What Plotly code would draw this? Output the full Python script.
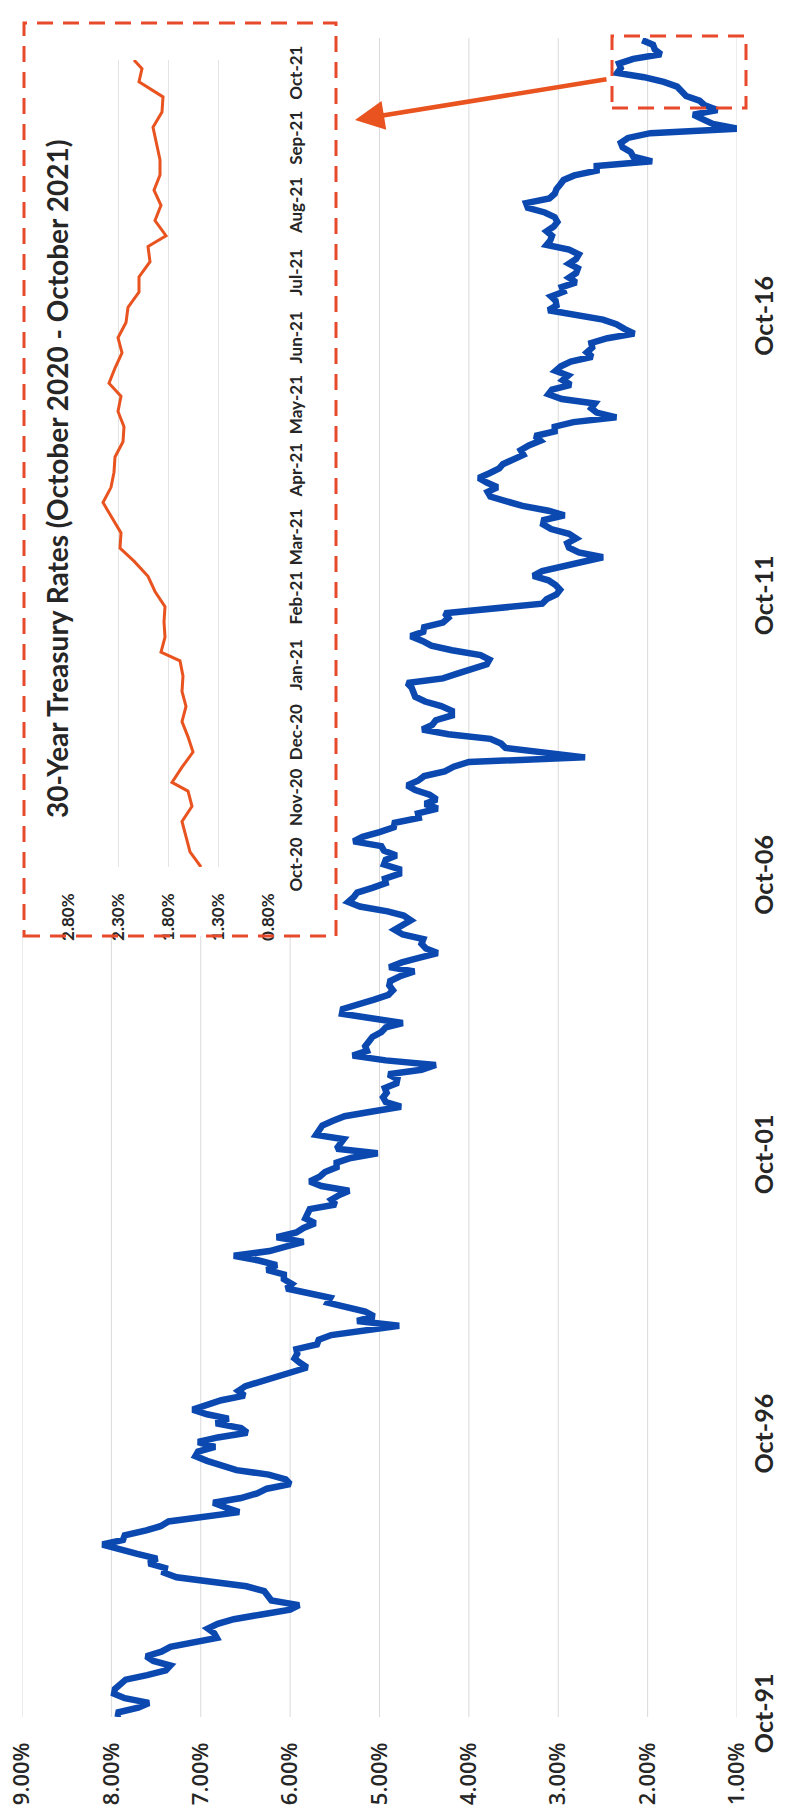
import pandas as pd
import plotly.graph_objects as go

# ---------------- data ----------------
main_rates = [
    # 1991 Oct-Dec
    7.93, 7.92, 7.70,
    # 1992
    7.58, 7.85, 7.97, 7.96, 7.89, 7.84, 7.60, 7.39, 7.34, 7.53, 7.61, 7.44,
    # 1993
    7.34, 7.09, 6.82, 6.85, 6.92, 6.81, 6.63, 6.32, 6.00, 5.90, 6.21, 6.25,
    # 1994
    6.29, 6.49, 6.91, 7.27, 7.41, 7.40, 7.58, 7.49, 7.71, 7.94, 8.10, 7.87,
    # 1995
    7.85, 7.61, 7.45, 7.36, 6.95, 6.57, 6.72, 6.86, 6.55, 6.37, 6.26, 6.00,
    # 1996
    6.05, 6.24, 6.60, 6.79, 6.93, 7.06, 7.03, 6.84, 7.03, 6.81, 6.48, 6.55,
    # 1997
    6.83, 6.69, 6.93, 7.09, 6.94, 6.77, 6.51, 6.58, 6.50, 6.33, 6.11, 5.99,
    # 1998
    5.81, 5.89, 5.95, 5.92, 5.93, 5.70, 5.68, 5.54, 5.20, 4.78, 5.25, 5.06,
    # 1999
    5.16, 5.37, 5.58, 5.55, 5.81, 6.04, 5.98, 6.07, 6.07, 6.26, 6.15, 6.35,
    # 2000
    6.63, 6.23, 6.05, 5.85, 6.15, 5.93, 5.85, 5.72, 5.83, 5.80, 5.78, 5.49,
    # 2001
    5.54, 5.45, 5.34, 5.65, 5.78, 5.67, 5.61, 5.48, 5.48, 5.32, 5.02, 5.48,
    # 2002
    5.45, 5.40, 5.71, 5.67, 5.64, 5.52, 5.39, 5.08, 4.76, 4.93, 4.96, 4.92,
    # 2003
    4.94, 4.81, 4.80, 4.90, 4.53, 4.37, 4.93, 5.30, 5.14, 5.16, 5.12, 5.08,
    # 2004
    4.98, 4.93, 4.74, 5.14, 5.42, 5.41, 5.22, 5.06, 4.90, 4.85, 4.89, 4.88,
    # 2005
    4.77, 4.61, 4.89, 4.75, 4.56, 4.35, 4.48, 4.53, 4.51, 4.74, 4.83, 4.73,
    # 2006
    4.65, 4.73, 4.91, 5.22, 5.35, 5.29, 5.25, 5.08, 4.93, 4.94, 4.78, 4.78,
    # 2007
    4.95, 4.93, 4.81, 4.95, 4.98, 5.29, 5.19, 5.00, 4.84, 4.83, 4.56, 4.57,
    # 2008
    4.35, 4.49, 4.36, 4.44, 4.60, 4.69, 4.57, 4.50, 4.27, 4.17, 4.00, 2.70,
    # 2009
    3.13, 3.59, 3.64, 3.76, 4.23, 4.52, 4.41, 4.37, 4.19, 4.19, 4.31, 4.49,
    # 2010
    4.60, 4.62, 4.64, 4.69, 4.29, 4.13, 3.99, 3.80, 3.77, 3.87, 4.19, 4.42,
    # 2011
    4.52, 4.65, 4.51, 4.50, 4.29, 4.23, 4.27, 3.65, 3.18, 3.13, 3.02, 2.98,
    # 2012
    3.03, 3.11, 3.28, 3.18, 2.93, 2.70, 2.50, 2.77, 2.88, 2.90, 2.80, 2.88,
    # 2013
    3.08, 3.17, 3.16, 2.93, 3.11, 3.40, 3.61, 3.76, 3.79, 3.68, 3.80, 3.89,
    # 2014
    3.77, 3.66, 3.62, 3.52, 3.39, 3.42, 3.33, 3.20, 3.26, 3.04, 3.04, 2.83,
    # 2015
    2.35, 2.57, 2.63, 2.59, 2.96, 3.11, 3.07, 2.86, 2.95, 2.89, 3.03, 2.97,
    # 2016
    2.86, 2.62, 2.68, 2.62, 2.63, 2.45, 2.15, 2.26, 2.35, 2.50, 2.86, 3.11,
    # 2017
    3.02, 3.03, 3.08, 2.94, 2.96, 2.80, 2.88, 2.80, 2.78, 2.88, 2.80, 2.77,
    # 2018
    2.88, 3.13, 3.09, 3.07, 3.13, 3.05, 3.01, 3.04, 3.15, 3.34, 3.36, 3.10,
    # 2019
    3.04, 3.02, 2.98, 2.94, 2.82, 2.57, 2.57, 1.95, 2.16, 2.19, 2.28, 2.30,
    # 2020
    2.22, 1.97, 0.99, 1.27, 1.38, 1.49, 1.22, 1.36, 1.42, 1.57, 1.62, 1.67,
    # 2021 Jan-Oct
    1.82, 2.04, 2.34, 2.30, 2.32, 2.16, 1.85, 1.92, 1.94, 2.06,
]
main_dates = pd.date_range("1991-10-01", periods=len(main_rates), freq="MS")

inset_dates = [
    "2020-10-01", "2020-10-08", "2020-10-15", "2020-10-22", "2020-10-29",
    "2020-11-05", "2020-11-09", "2020-11-16", "2020-11-23", "2020-11-30",
    "2020-12-07", "2020-12-14", "2020-12-21", "2020-12-28", "2021-01-04",
    "2021-01-08", "2021-01-15", "2021-01-22", "2021-01-29", "2021-02-05",
    "2021-02-12", "2021-02-19", "2021-02-25", "2021-03-04", "2021-03-11",
    "2021-03-18", "2021-03-25", "2021-04-01", "2021-04-08", "2021-04-15",
    "2021-04-22", "2021-04-29", "2021-05-06", "2021-05-12", "2021-05-19",
    "2021-05-26", "2021-06-02", "2021-06-09", "2021-06-16", "2021-06-23",
    "2021-06-30", "2021-07-07", "2021-07-14", "2021-07-19", "2021-07-26",
    "2021-08-02", "2021-08-09", "2021-08-16", "2021-08-23", "2021-08-30",
    "2021-09-07", "2021-09-14", "2021-09-21", "2021-09-28", "2021-10-04",
    "2021-10-08",
]
inset_rates = [
    1.47, 1.58, 1.62, 1.66, 1.56,
    1.60, 1.76, 1.66, 1.55, 1.60,
    1.66, 1.62, 1.66, 1.65, 1.68,
    1.87, 1.83, 1.84, 1.83, 1.93,
    2.00, 2.14, 2.28, 2.27, 2.36,
    2.45, 2.37, 2.34, 2.33, 2.25,
    2.24, 2.30, 2.27, 2.39, 2.33,
    2.26, 2.30, 2.22, 2.20, 2.09,
    2.09, 1.98, 2.00, 1.82, 1.93,
    1.87, 1.94, 1.88, 1.88, 1.91,
    1.95, 1.86, 1.85, 2.09, 2.06,
    2.14,
]

main_yield_ticks = [9, 8, 7, 6, 5, 4, 3, 2, 1]
main_yield_labels = ["9.00%", "8.00%", "7.00%", "6.00%", "5.00%", "4.00%", "3.00%", "2.00%", "1.00%"]
main_date_ticks = ["1991-10-01", "1996-10-01", "2001-10-01", "2006-10-01", "2011-10-01", "2016-10-01", "2021-10-01"]
main_date_labels = ["Oct-91", "Oct-96", "Oct-01", "Oct-06", "Oct-11", "Oct-16", "Oct-21"]

inset_yield_ticks = [2.8, 2.3, 1.8, 1.3, 0.8]
inset_yield_labels = ["2.80%", "2.30%", "1.80%", "1.30%", "0.80%"]
inset_month_ticks = [
    "2020-10-01", "2020-11-01", "2020-12-01", "2021-01-01", "2021-02-01", "2021-03-01",
    "2021-04-01", "2021-05-01", "2021-06-01", "2021-07-01", "2021-08-01", "2021-09-01", "2021-10-01",
]
inset_month_labels = ["Oct-20", "Nov-20", "Dec-20", "Jan-21", "Feb-21", "Mar-21", "Apr-21",
                      "May-21", "Jun-21", "Jul-21", "Aug-21", "Sep-21", "Oct-21"]

title_text = "30-Year Treasury Rates (October 2020 - October 2021)"

# ---------------- layout geometry ----------------
W, H = 788, 1818
ML, MR, MT, MB = 22, 51, 38, 101
PW = W - ML - MR
PH = H - MT - MB


def px_x(x):
    return (x - ML) / PW


def px_y(y):
    return 1 - (y - MT) / PH


BLUE = "#0B49B0"
ORANGE = "#E8531F"
DASH_RED = "#E8492A"
GRID = "#DADADA"
TEXT = "#262626"

CAL = "Lato, Carlito, Calibri, sans-serif"

fig = go.Figure()

fig.add_trace(go.Scatter(
    x=main_rates, y=main_dates, mode="lines",
    line=dict(color=BLUE, width=6.5), xaxis="x", yaxis="y", hoverinfo="skip",
))

fig.add_trace(go.Scatter(
    x=inset_rates, y=inset_dates, mode="lines",
    line=dict(color=ORANGE, width=3), xaxis="x2", yaxis="y2", hoverinfo="skip",
))

inset_box = dict(x0=24, x1=336, y0=23, y1=936)
small_box = dict(x0=612, x1=746, y0=36, y1=108)

shapes = []
# main gridlines (hidden behind the inset picture where they cross it)
for v in main_yield_ticks:
    gx = ML + (9 - v) / 8 * PW
    top = px_y(inset_box["y1"]) if gx <= inset_box["x1"] + 4 else 1
    shapes.append(dict(type="line", xref="x", yref="paper", x0=v, x1=v, y0=0, y1=top,
                       line=dict(color=GRID, width=1), layer="below"))

for b in (inset_box, small_box):
    shapes.append(dict(type="rect", xref="paper", yref="paper",
                       x0=px_x(b["x0"]), x1=px_x(b["x1"]), y0=px_y(b["y1"]), y1=px_y(b["y0"]),
                       line=dict(color=DASH_RED, width=3, dash="16px,10px"),
                       fillcolor="rgba(0,0,0,0)", layer="above"))

annotations = [
    dict(text="<b>" + title_text + "</b>", xref="paper", yref="paper",
         x=px_x(57), y=px_y(479), showarrow=False, textangle=-90,
         font=dict(family=CAL, size=28, color=TEXT), xanchor="center", yanchor="middle"),
    dict(text="", xref="paper", yref="paper", x=px_x(355), y=px_y(120),
         ax=608 - 355, ay=79 - 120, axref="pixel", ayref="pixel",
         showarrow=True, arrowhead=2, arrowsize=1.3, arrowwidth=4.5, arrowcolor=ORANGE,
         standoff=0, startstandoff=0),
]

fig.update_layout(
    width=W, height=H,
    margin=dict(l=ML, r=MR, t=MT, b=MB, autoexpand=False),
    paper_bgcolor="white", plot_bgcolor="white",
    showlegend=False,
    shapes=shapes, annotations=annotations,
    xaxis=dict(
        range=[9, 1], tickmode="array", tickvals=main_yield_ticks, ticktext=main_yield_labels,
        tickangle=-90, showgrid=False, zeroline=False, showline=False, ticks="",
        tickfont=dict(family="Open Sans, sans-serif", size=22, color=TEXT, weight=600),
        ticklabelstandoff=20, automargin=False,
    ),
    yaxis=dict(
        type="date", range=["1991-10-01", "2021-10-15"], side="right",
        tickmode="array", tickvals=main_date_ticks, ticktext=main_date_labels,
        tickangle=-90, showgrid=False, zeroline=False, showline=False, ticks="",
        tickfont=dict(family=CAL, size=25, color=TEXT, weight="bold"),
        ticklabelstandoff=10, automargin=False,
    ),
    xaxis2=dict(
        domain=[px_x(68), px_x(268)], anchor="y2",
        range=[2.8, 0.8], tickmode="array", tickvals=inset_yield_ticks, ticktext=inset_yield_labels,
        tickangle=-90, showgrid=True, gridcolor="#E4E4E4", gridwidth=1,
        zeroline=False, showline=False, ticks="",
        tickfont=dict(family=CAL, size=17, color=TEXT, weight="bold"),
        ticklabelstandoff=22, automargin=False,
    ),
    yaxis2=dict(
        domain=[px_y(867), px_y(60)], anchor="x2", side="right",
        type="date", range=["2020-10-01", "2021-10-08"],
        tickmode="array", tickvals=inset_month_ticks, ticktext=inset_month_labels,
        tickangle=-90, showgrid=False, zeroline=False, showline=False, ticks="",
        tickfont=dict(family=CAL, size=17, color=TEXT, weight="bold"),
        ticklabelstandoff=16, automargin=False,
    ),
)

fig.write_html("out.html")
